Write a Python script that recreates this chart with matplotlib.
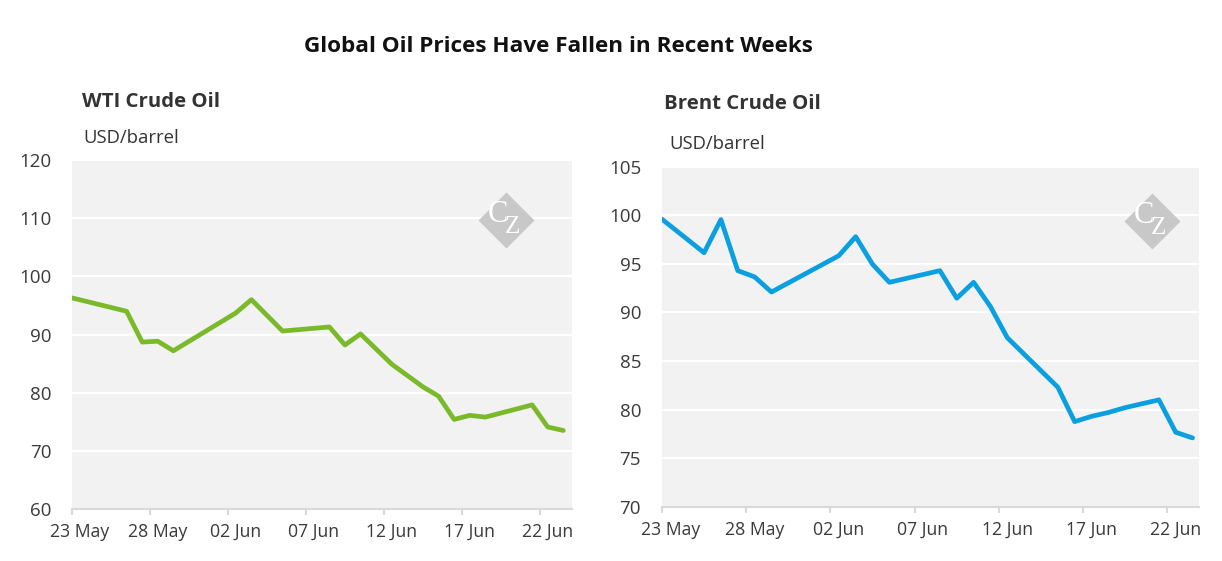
import matplotlib
matplotlib.use("Agg")
from matplotlib import pyplot as plt
import matplotlib.dates as mdates
import pandas as pd

plt.rcParams['font.family'] = ['Open Sans', 'DejaVu Sans']

# daily prices, plotted at noon (first point at the axis start)
wti_dates = ["2022-05-23 00:00", "2022-05-26 12:00", "2022-05-27 12:00", "2022-05-28 12:00",
             "2022-05-29 12:00", "2022-06-02 12:00", "2022-06-03 12:00", "2022-06-04 12:00",
             "2022-06-05 12:00", "2022-06-08 12:00", "2022-06-09 12:00", "2022-06-10 12:00",
             "2022-06-12 12:00", "2022-06-14 12:00", "2022-06-15 12:00", "2022-06-16 12:00",
             "2022-06-17 12:00", "2022-06-18 12:00", "2022-06-21 12:00", "2022-06-22 12:00",
             "2022-06-23 12:00"]
wti_prices = [96.3, 94.0, 88.7, 88.85, 87.2, 93.7, 96.0, 93.3, 90.6, 91.3, 88.2, 90.1,
              84.9, 81.0, 79.4, 75.4, 76.1, 75.8, 77.9, 74.1, 73.5]

brent_dates = ["2022-05-23 00:00", "2022-05-25 12:00", "2022-05-26 12:00", "2022-05-27 12:00",
               "2022-05-28 12:00", "2022-05-29 12:00", "2022-06-02 12:00", "2022-06-03 12:00",
               "2022-06-04 12:00", "2022-06-05 12:00", "2022-06-08 12:00", "2022-06-09 12:00",
               "2022-06-10 12:00", "2022-06-11 12:00", "2022-06-12 12:00", "2022-06-15 12:00",
               "2022-06-16 12:00", "2022-06-17 12:00", "2022-06-18 12:00", "2022-06-19 12:00",
               "2022-06-21 12:00", "2022-06-22 12:00", "2022-06-23 12:00"]
brent_prices = [99.6, 96.15, 99.56, 94.3, 93.66, 92.1, 95.84, 97.8, 94.96, 93.1, 94.3, 91.46,
                93.1, 90.6, 87.4, 82.3, 78.76, 79.3, 79.7, 80.2, 81.0, 77.66, 77.08]

tick_dates = ["2022-05-23", "2022-05-28", "2022-06-02", "2022-06-07",
              "2022-06-12", "2022-06-17", "2022-06-22"]

title = "Global Oil Prices Have Fallen in Recent Weeks"

fig = plt.figure(figsize=(12.22, 5.61), dpi=100)
fig.text(0.4566, 0.918, title, ha='center', va='center', fontsize=16.2,
         fontweight='bold', color='#111111')


def draw_panel(rect, dates, prices, color, name, yticks, xmax, name_y, unit_y, logo):
    ax = fig.add_axes(rect)
    x = pd.to_datetime(dates)
    ax.set_facecolor('#f2f2f2')
    ax.plot(x, prices, color=color, lw=3.4, solid_capstyle='round', zorder=3)

    ax.set_ylim(yticks[0], yticks[-1])
    ax.set_yticks(yticks)
    ax.set_xlim(pd.Timestamp("2022-05-23"), pd.Timestamp(xmax))
    ax.grid(axis='y', color='white', lw=1.6, zorder=1)
    ax.set_axisbelow(True)

    # tick marks at midnight, labels centred on the day (noon)
    ticks = pd.to_datetime(tick_dates)
    ax.set_xticks(ticks)
    ax.set_xticklabels([])
    ax.set_xticks(ticks + pd.Timedelta(hours=12), minor=True)
    ax.xaxis.set_minor_formatter(mdates.DateFormatter('%d %b'))
    ax.set_xticklabels([t.strftime('%d %b') for t in ticks], minor=True)
    ax.tick_params(axis='x', which='major', length=4, width=1.5, color='#d9d9d9')
    ax.tick_params(axis='x', which='minor', length=0, pad=10, labelsize=12.7,
                   labelcolor='#3a3a3a')
    ax.tick_params(axis='y', length=0, pad=15, labelsize=13.5, labelcolor='#3a3a3a')

    for s in ['top', 'left', 'right']:
        ax.spines[s].set_visible(False)
    ax.spines['bottom'].set_color('#d9d9d9')
    ax.spines['bottom'].set_linewidth(1.5)

    # header texts
    fig.text(name[1], name_y, name[0], ha='left', va='center', fontsize=14.7,
             fontweight='bold', color='#333333')
    fig.text(name[2], unit_y, "USD/barrel", ha='left', va='center', fontsize=13.3,
             color='#333333')

    # watermark logo
    ax.plot([logo[0]], [logo[1]], marker='D', ms=29, color='#c8c8c8', mec='none',
            transform=ax.transAxes, zorder=2)
    ax.annotate("C", logo, xycoords='axes fraction', xytext=(-5.5, 4),
                textcoords='offset points', ha='center', va='center', fontsize=22,
                color='white', family='Liberation Serif', zorder=4)
    ax.annotate("Z", logo, xycoords='axes fraction', xytext=(5, -5),
                textcoords='offset points', ha='center', va='center', fontsize=18,
                color='white', family='Liberation Serif', zorder=4)
    return ax


draw_panel([0.0589, 0.0927, 0.409, 0.622], wti_dates, wti_prices, '#7ab929',
           ("WTI Crude Oil", 0.067, 0.068), [60, 70, 80, 90, 100, 110, 120],
           "2022-06-24 01:00", 0.818, 0.754, (0.868, 0.828))
draw_panel([0.5417, 0.0968, 0.4394, 0.606], brent_dates, brent_prices, '#0a9fde',
           ("Brent Crude Oil", 0.5434, 0.548), [70, 75, 80, 85, 90, 95, 100, 105],
           "2022-06-23 21:00", 0.814, 0.743, (0.912, 0.840))

fig.savefig("out.png", dpi=100)
